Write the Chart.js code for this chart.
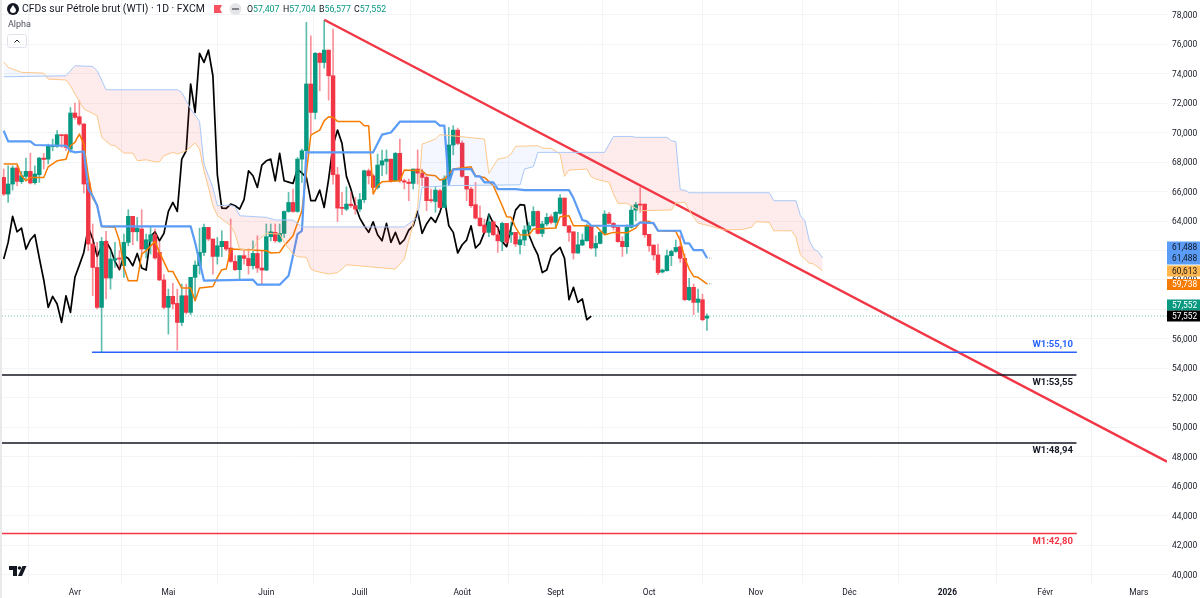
<!DOCTYPE html>
<html>
<head>
<meta charset="utf-8">
<title>WTI</title>
<script src="https://cdn.jsdelivr.net/npm/chart.js@4"></script>
<style>
    html, body { margin: 0; padding: 0; background: #fff; }
    #box { position: relative; width: 1200px; height: 598px; }
    canvas { display: block; }
</style>
</head>
<body>
<div id="box"><canvas id="myChart" width="1200" height="598"></canvas></div>
<script>
// daily candles, one entry per bar
const opens = [66.96,65.83,66.51,67.6,66.67,67.03,67.37,66.6,67.14,68.27,68.2,69.05,69.07,69.86,69.86,68.88,71.33,71.08,70.58,66.58,
    62.44,60.85,58.14,62.62,60.13,61.35,61.49,60.97,62.55,64.32,63.27,63.46,62.1,62.62,63.07,61.87,60.0,58.14,58.89,58.41,
    57.12,58.93,57.8,60.18,60.97,61.87,63.57,62.78,61.6,62.26,62.62,62.17,61.26,60.7,61.65,61.46,60.97,61.8,60.81,60.67,
    62.94,63.23,62.62,63.16,64.65,65.26,64.65,68.2,68.77,73.3,71.37,75.38,74.76,75.6,73.86,67.14,64.92,64.81,65.15,65.04,
    64.81,65.45,67.41,67.07,66.28,67.8,68.05,68.2,66.73,68.59,66.73,66.64,66.55,67.53,67.25,66.96,65.45,65.33,66.06,64.92,
    66.85,69.16,70.17,69.29,67.03,66.17,65.11,64.2,63.73,63.23,63.95,63.07,62.62,63.84,63.07,63.23,62.39,62.71,63.39,63.68,
    64.65,63.16,63.8,64.29,63.91,64.52,65.56,63.68,63.27,61.83,62.37,62.66,63.68,62.17,62.48,63.16,64.47,63.84,63.57,62.62,
    62.26,63.57,64.74,65.15,65.15,63.1,62.37,61.7,60.54,60.63,61.65,61.94,62.26,61.47,58.66,59.5,58.48,58.66,57.407];
const highs = [67.53,67.75,67.75,67.75,67.37,68.27,68.61,67.75,68.32,68.59,69.22,69.56,70.13,69.86,69.9,71.71,72.0,72.16,70.63,66.78,
    63.8,62.55,62.89,63.3,61.99,62.55,61.99,63.12,64.77,64.32,64.25,64.77,63.12,63.57,63.46,62.55,60.36,59.38,59.77,59.38,
    59.72,59.72,60.18,61.3,63.52,63.8,63.57,62.78,62.89,63.34,62.62,64.14,61.65,61.65,61.99,62.1,62.66,63.0,61.99,63.8,
    63.8,63.8,63.8,64.7,65.94,66.17,68.31,68.88,77.48,76.57,75.44,75.44,77.59,75.6,77.03,67.64,65.94,66.33,65.94,65.6,
    65.87,67.46,67.53,67.19,68.54,68.82,68.82,68.2,68.66,69.56,66.85,66.85,67.53,68.82,67.53,67.07,66.17,66.28,66.17,67.07,
    70.35,70.47,70.31,69.45,67.03,66.28,66.62,65.04,64.13,64.47,64.02,63.57,63.91,63.84,63.91,63.23,63.0,63.68,63.91,64.97,
    64.7,63.98,64.52,64.43,64.65,65.79,65.56,63.68,63.27,63.23,63.12,63.8,63.68,63.0,63.34,64.7,64.59,63.91,63.57,62.94,
    63.75,65.04,65.27,66.28,65.15,63.1,62.39,62.44,60.74,62.03,62.03,62.71,63.0,61.76,60.11,59.72,59.38,59.04,57.704];
const lows = [65.72,65.27,66.1,66.4,66.55,66.73,66.51,66.51,66.62,67.53,67.87,68.77,69.0,69.0,68.77,68.66,70.92,70.47,65.9,61.99,
    58.93,58.03,55.09,58.71,59.38,60.85,60.74,60.18,62.32,62.39,62.66,61.58,61.49,61.76,61.42,59.95,58.03,56.33,58.03,55.24,
    56.9,57.69,57.64,58.59,60.4,61.65,62.66,60.4,61.08,61.58,61.99,61.19,60.63,60.0,61.08,60.4,60.74,60.51,59.72,60.63,
    62.66,62.55,62.55,62.89,64.59,64.59,64.59,66.62,68.66,69.9,70.92,72.84,74.38,72.21,66.51,63.97,64.43,64.7,64.92,64.47,
    64.65,65.26,66.51,66.17,66.17,67.07,67.19,66.62,66.69,66.62,66.17,65.38,66.17,66.51,66.4,64.7,65.26,64.59,64.88,64.92,
    66.4,68.5,69.18,66.96,65.38,64.93,64.13,63.64,63.16,62.94,63.0,61.87,61.99,62.44,62.55,62.26,61.76,62.33,63.0,63.64,
    63.12,62.94,63.68,63.8,63.52,64.47,63.64,62.62,61.42,61.8,62.33,62.62,62.1,61.6,62.44,63.12,63.8,63.39,62.55,61.6,
    61.8,63.52,64.02,64.59,62.89,61.94,61.35,60.36,60.47,60.6,60.97,61.87,61.19,58.59,58.59,57.64,57.8,57.23,56.577];
const closes = [65.83,66.51,67.6,66.69,67.07,67.37,66.58,67.19,68.27,68.18,69.11,69.13,69.86,69.79,69.0,71.33,71.03,70.58,66.51,62.44,
    60.85,58.14,62.62,60.13,61.42,61.45,61.42,62.55,64.32,63.27,63.52,62.1,62.73,63.07,61.49,60.0,58.14,58.89,58.37,57.12,
    58.93,57.8,60.18,61.01,61.87,63.57,62.78,61.6,62.32,62.62,62.1,61.26,60.7,61.65,61.46,60.97,61.8,60.81,60.67,62.94,
    63.27,62.66,63.16,64.65,65.26,64.65,68.2,68.77,73.3,71.37,75.38,74.76,75.6,73.86,67.14,64.88,64.86,65.15,65.04,64.81,
    65.45,67.41,67.07,66.28,67.8,68.09,68.2,66.73,68.59,66.73,66.64,66.55,67.53,67.25,66.96,65.38,65.38,66.1,64.92,66.85,
    69.16,70.17,69.27,67.03,66.17,65.04,64.2,63.68,63.23,63.95,63.07,62.66,63.84,62.55,63.23,62.44,62.73,63.39,63.68,64.65,
    63.16,63.8,64.25,63.91,64.59,65.56,63.68,63.23,61.83,62.39,62.71,63.68,62.17,62.48,63.23,64.47,63.84,63.57,62.6,62.26,
    63.57,64.74,65.11,65.08,63.07,62.32,61.7,60.5,60.67,61.65,61.94,62.21,61.47,58.66,59.5,58.48,58.71,57.3,57.552];

// black lagging line, starts on the first bar
const laggingValues = [61.42,62.55,64.32,63.27,63.52,62.1,62.73,63.07,61.49,60.0,58.14,58.89,58.37,57.12,
    58.93,57.8,60.18,61.01,61.87,63.57,62.78,61.6,62.32,62.62,62.1,61.26,60.7,61.65,61.46,60.97,61.8,60.81,60.67,62.94,
    63.27,62.66,63.16,64.65,65.26,64.65,68.2,68.77,73.3,71.37,75.38,74.76,75.6,73.86,67.14,64.88,64.86,65.15,65.04,64.81,
    65.45,67.41,67.07,66.28,67.8,68.09,68.2,66.73,68.59,66.73,66.64,66.55,67.53,67.25,66.96,65.38,65.38,66.1,64.92,66.85,
    69.16,70.17,69.27,67.03,66.17,65.04,64.2,63.68,63.23,63.95,63.07,62.66,63.84,62.55,63.23,62.44,62.73,63.39,63.68,64.65,
    63.16,63.8,64.25,63.91,64.59,65.56,63.68,63.23,61.83,62.39,62.71,63.68,62.17,62.48,63.23,64.47,63.84,63.57,62.6,62.26,
    63.57,64.74,65.11,65.08,63.07,62.32,61.7,60.5,60.67,61.65,61.94,62.21,61.47,58.66,59.5,58.48,58.71,57.3,57.552];

// the stepped lines only need their corners, bar number + value
const kijunBars = [0,1,6,7,14,15,16,18,19,20,21,22,42,43,45,56,57,62,64,65,66,67,68,83,85,87,89,97,98,99,100,101,105,106,107,108,110,111,115,117,127,128,130,131,132,142,143,146,147,152,153,154,155,157,158];
const kijunValues = [70.13,69.41,69.41,69.16,69.11,68.77,68.66,68.72,66.17,65.7,65.04,63.64,63.64,62.55,59.95,60.02,59.68,59.68,60.29,61.65,63.11,63.34,68.66,68.66,69.86,70.01,70.74,70.74,70.47,70.47,66.51,67.5,67.53,67.03,67.03,66.62,66.62,66.17,66.17,66.1,66.1,65.56,64.07,63.98,63.68,63.68,63.91,63.86,63.34,63.34,62.48,62.48,62.03,62.03,61.488];

const tenkanBars = [0,3,4,5,6,9,10,12,14,15,16,17,18,19,20,21,22,25,26,27,28,30,31,32,34,35,37,38,40,42,43,44,47,48,49,50,51,59,60,62,63,65,67,69,71,72,73,74,75,80,81,82,83,84,85,89,90,94,95,97,98,99,101,105,106,108,110,112,113,114,115,116,118,119,124,125,127,128,133,135,137,140,142,143,145,146,147,151,152,153,154,155,156,158];
const tenkanValues = [67.87,67.87,67.07,66.73,66.96,66.96,67.68,68.09,68.2,69.11,69.34,69.9,69.22,67.07,65.55,65.1,63.63,63.57,62.66,60.85,59.95,59.95,61.76,61.99,62.62,61.87,60.58,60.58,59.45,59.45,58.59,59.45,59.56,60.18,60.7,60.74,62.1,61.99,61.83,61.87,62.32,63.0,64.7,69.83,70.17,70.8,71.08,71.03,70.76,70.76,70.47,70.47,65.83,66.4,66.67,66.73,67.46,67.41,67.14,67.07,66.78,66.85,67.53,67.68,67.07,66.96,66.4,65.04,64.29,64.25,63.57,63.07,63.05,63.46,63.52,64.29,64.36,63.68,63.68,63.07,63.23,63.2,63.52,63.91,63.98,63.8,63.34,63.3,62.66,61.49,60.74,60.24,60.18,59.738];

const spanABars = [0,1,4,9,10,14,15,16,18,21,22,24,25,27,29,30,32,34,35,36,38,39,41,43,44,45,46,47,48,51,52,53,56,57,59,62,63,65,66,68,69,70,73,75,76,77,82,88,90,91,93,94,97,98,103,108,109,111,113,114,115,120,121,123,125,126,127,131,132,133,136,137,138,140,143,150,151,153,155,156,159,162,166,168,169,172,173,177,178,179,181,182,184];
const spanAValues = [74.81,74.43,74.09,74.04,73.63,73.57,73.18,72.62,71.6,71.15,69.68,69.16,69.11,68.61,68.61,68.09,68.16,68.02,68.02,68.43,68.66,68.55,68.77,69.29,68.88,67.41,66.28,65.04,64.36,63.68,63.12,62.1,61.99,62.66,63.16,63.12,62.55,61.76,61.58,61.53,60.74,60.6,60.4,60.5,60.74,61.03,60.9,60.74,61.42,62.66,64.92,69.22,69.56,69.86,69.72,69.56,67.23,68.2,68.32,68.55,69.07,69.11,68.95,68.93,68.55,67.03,67.46,67.53,67.0,66.85,66.62,65.83,65.2,65.2,64.7,64.75,65.22,65.27,64.25,63.86,63.64,63.39,63.43,63.57,63.95,63.91,63.34,63.34,62.89,61.69,61.13,61.08,60.613];

const spanBBars = [0,14,16,20,21,23,39,40,42,44,45,46,47,48,51,52,53,59,61,65,67,90,93,94,100,116,117,119,120,135,137,141,142,149,150,151,152,153,154,172,173,178,179,180,181,182,183,184];
const spanBValues = [73.79,73.86,74.54,74.49,74.2,72.91,72.91,72.73,71.6,70.76,67.87,67.07,66.28,65.04,65.08,64.97,64.36,64.25,64.07,64.07,63.6,63.6,64.25,66.28,66.4,66.46,67.53,67.69,68.66,68.66,69.74,69.74,69.68,69.68,69.45,69.38,66.12,66.1,65.92,65.92,65.38,65.38,64.36,64.02,62.66,62.1,61.92,61.488];

// drawn levels and trend line
const levelBars = [[19.85,241.1],[-0.4,241],[-0.4,241],[-0.4,241.1]];
const levelValues = [55.10,53.55,48.94,42.80];
const levelColors = ['#2962ff','#131722','#131722','#f23645'];
const levelLabels = ['W1:55,10','W1:53,55','W1:48,94','M1:42,80'];
const levelOffsets = [-8,8,8,8];
const trendBars = [72,261.35];
const trendValues = [77.66,47.67];
const lastPrice = 57.552;

// axes
const monthBars = [16,37,59,80,103,124,145,169,190,212,234,255];
const monthLabels = ['Avr','Mai','Juin','Juill','Août','Sept','Oct','Nov','Déc','2026','Févr','Mars'];
const priceTicks = [40,42,44,46,48,50,52,54,56,58,60,62,64,66,68,70,72,74,76,78];

const GREEN = '#089981';
const RED = '#f23645';
const FONT = 'Roboto, sans-serif';

function toPoints(bars, values) {
    return bars.map((b, i) => ({ x: b, y: values[i] }));
}

function line(label, data, color, width) {
    return {
        type: 'line',
        label: label,
        data: data,
        borderColor: color,
        borderWidth: width,
        pointRadius: 0,
        tension: 0,
        fill: false,
        parsing: false,
        borderJoinStyle: 'round'
    };
}

function priceText(v) {
    return v.toFixed(3).replace('.', ',');
}

const wickData = highs.map((h, i) => ({ x: i, y: [lows[i], h] }));
const bodyData = opens.map((o, i) => ({ x: i, y: [Math.min(o, closes[i]), Math.max(o, closes[i])] }));
const upDown = opens.map((o, i) => closes[i] >= o);

const spanB = line('Span B', toPoints(spanBBars, spanBValues), '#a9c8f7', 1);
const spanA = line('Span A', toPoints(spanABars, spanAValues), '#fdc98a', 1);
spanA.fill = { target: 0, above: 'rgba(41,98,255,0.05)', below: 'rgba(242,54,69,0.10)' };

const datasets = [
    spanB,
    spanA,
    line('Kijun', toPoints(kijunBars, kijunValues), '#5b9cf6', 2.2),
    line('Tenkan', toPoints(tenkanBars, tenkanValues), '#f57c00', 1.5),
    {
        type: 'bar', label: 'wick', data: wickData, barThickness: 1, grouped: false, parsing: { xAxisKey: 'x', yAxisKey: 'y' },
        backgroundColor: upDown.map(u => u ? 'rgba(8,153,129,0.65)' : 'rgba(242,54,69,0.55)')
    },
    {
        type: 'bar', label: 'body', data: bodyData, barThickness: 3.8, grouped: false, minBarLength: 1, parsing: { xAxisKey: 'x', yAxisKey: 'y' },
        backgroundColor: upDown.map(u => u ? GREEN : RED)
    },
    line('Lagging', laggingValues.map((v, i) => ({ x: i, y: v })), '#000000', 1.7)
];

levelValues.forEach(function (v, i) {
    datasets.push(line(levelLabels[i], [{ x: levelBars[i][0], y: v }, { x: levelBars[i][1], y: v }], levelColors[i], 1.5));
});

const priceLine = line('Last', [{ x: -0.4, y: lastPrice }, { x: 261.35, y: lastPrice }], 'rgba(8,153,129,0.6)', 1);
priceLine.borderDash = [1, 2];
datasets.push(priceLine);

// little grey stubs where the two thick lines stop
[61.488, 59.738].forEach(function (v) {
    const stub = line('Stub', [{ x: 158, y: v }, { x: 159, y: v }], '#9598a1', 1);
    stub.borderDash = [1, 1];
    datasets.push(stub);
});

datasets.push(line('Trend', toPoints(trendBars, trendValues), RED, 2.4));

// everything tradingview puts around the plot
const overlay = {
    id: 'overlay',
    beforeDraw(chart) {
        const c = chart.ctx;
        c.save();
        c.fillStyle = '#ffffff';
        c.fillRect(0, 0, 1200, 598);
        c.fillStyle = '#e9e9ea';
        c.fillRect(0, 0, 2, 598);
        c.restore();
    },
    afterDraw(chart) {
        const c = chart.ctx;
        const y = chart.scales.y;
        c.save();
        c.textBaseline = 'middle';

        // level labels
        c.textAlign = 'right';
        c.font = 'bold 9.5px ' + FONT;
        levelLabels.forEach(function (t, i) {
            c.fillStyle = levelColors[i];
            c.fillText(t, 1073, y.getPixelForValue(levelValues[i]) + levelOffsets[i]);
        });

        // price tags on the axis
        const tags = [
            [241.5, 11.5, '#5b9cf6', '#131722', 61.488],
            [253, 11.5, '#5b9cf6', '#131722', 61.488],
            [265.5, 11, '#ffb74d', '#131722', 60.613],
            [279, 11, '#f57c00', '#ffffff', 59.738],
            [299.5, 11, GREEN, '#ffffff', 57.552],
            [310.5, 11, '#000000', '#ffffff', 57.552]
        ];
        c.textAlign = 'left';
        c.font = '8.4px ' + FONT;
        tags.forEach(function (t) {
            c.fillStyle = t[2];
            c.fillRect(1167, t[0], 33, t[1]);
            c.fillStyle = t[3];
            c.fillText(priceText(t[4]), 1172, t[0] + t[1] / 2 + 0.5);
        });

        // header
        c.fillStyle = '#131722';
        c.font = '10.4px ' + FONT;
        c.fillText('CFDs sur Pétrole brut (WTI) · 1D · FXCM', 22, 9.5);
        c.beginPath();
        c.arc(13, 9, 6, 0, Math.PI * 2);
        c.fill();
        c.fillStyle = '#ffffff';
        c.beginPath();
        c.moveTo(13, 5);
        c.bezierCurveTo(15, 8, 16, 9, 16, 10);
        c.arc(13, 10, 3, 0, Math.PI);
        c.bezierCurveTo(10, 9, 11, 8, 13, 5);
        c.fill();

        // red flag
        c.fillStyle = '#f7525f';
        c.beginPath();
        c.moveTo(214, 5);
        c.lineTo(222, 5);
        c.lineTo(220, 9);
        c.lineTo(222, 13);
        c.lineTo(214, 13);
        c.fill();

        // grey button
        c.fillStyle = '#e4e5e8';
        c.beginPath();
        c.arc(235.5, 9, 6, 0, Math.PI * 2);
        c.fill();
        c.fillStyle = '#6a6d78';
        c.fillRect(232, 8.2, 7, 1.6);

        // OHLC
        c.font = '8.8px ' + FONT;
        [['O', '57,407', 247], ['H', '57,704', 283], ['B', '56,577', 319], ['C', '57,552', 354]].forEach(function (o) {
            c.fillStyle = '#131722';
            c.fillText(o[0], o[2], 9.5);
            const w = c.measureText(o[0]).width;
            c.fillStyle = GREEN;
            c.fillText(o[1], o[2] + w, 9.5);
        });

        // study name and collapse button
        c.fillStyle = '#50535e';
        c.font = '9px ' + FONT;
        c.fillText('Alpha', 8, 25);
        c.strokeStyle = '#e0e3eb';
        c.lineWidth = 1;
        c.beginPath();
        c.roundRect(7.5, 34.5, 19, 13, 2);
        c.stroke();
        c.strokeStyle = '#131722';
        c.beginPath();
        c.moveTo(14.5, 42.5);
        c.lineTo(17, 40);
        c.lineTo(19.5, 42.5);
        c.stroke();

        // logo
        c.fillStyle = '#131722';
        c.beginPath();
        c.moveTo(9, 566);
        c.lineTo(17, 566);
        c.lineTo(17, 576);
        c.lineTo(13, 576);
        c.lineTo(13, 570);
        c.lineTo(9, 570);
        c.fill();
        c.beginPath();
        c.arc(19.5, 568, 1.8, 0, Math.PI * 2);
        c.fill();
        c.beginPath();
        c.moveTo(26.5, 566);
        c.lineTo(22, 576);
        c.lineTo(18, 576);
        c.lineTo(22.5, 566);
        c.fill();
        c.restore();
    }
};

function noPadding(scale) {
    scale.paddingTop = 0;
    scale.paddingBottom = 0;
    scale.paddingLeft = 0;
    scale.paddingRight = 0;
}

const ctx = document.getElementById('myChart');
const myChart = new Chart(ctx, {
    type: 'bar',
    data: { datasets: datasets },
    plugins: [overlay],
    options: {
        responsive: false,
        animation: false,
        devicePixelRatio: 1,
        layout: { padding: { left: 2, right: 0, top: 0, bottom: 0 } },
        plugins: {
            legend: { display: false },
            tooltip: { enabled: false },
            title: { display: false }
        },
        scales: {
            x: {
                type: 'linear',
                offset: false,
                min: -0.38,
                max: 261.35,
                afterBuildTicks: function (scale) {
                    scale.ticks = monthBars.map(b => ({ value: b }));
                },
                afterFit: function (scale) {
                    scale.height = 13;
                    noPadding(scale);
                },
                ticks: {
                    autoSkip: false,
                    maxRotation: 0,
                    padding: 3,
                    color: '#131722',
                    font: function (context) {
                        const isYear = context.tick && context.tick.value === 212;
                        return { family: FONT, size: 8.4, weight: isYear ? 'bold' : 'normal' };
                    },
                    callback: function (val) {
                        return monthLabels[monthBars.indexOf(val)];
                    }
                },
                grid: { color: '#f3f4f6', drawTicks: false },
                border: { display: false }
            },
            y: {
                type: 'linear',
                position: 'right',
                min: 39.3,
                max: 79.0,
                afterBuildTicks: function (scale) {
                    scale.ticks = priceTicks.map(v => ({ value: v }));
                },
                afterFit: function (scale) {
                    scale.width = 33;
                    noPadding(scale);
                },
                ticks: {
                    padding: 5,
                    labelOffset: 1,
                    color: '#131722',
                    font: { family: FONT, size: 8.4 },
                    callback: priceText
                },
                grid: { color: '#f3f4f6', drawTicks: false },
                border: { display: false }
            }
        }
    }
});
</script>
</body>
</html>
